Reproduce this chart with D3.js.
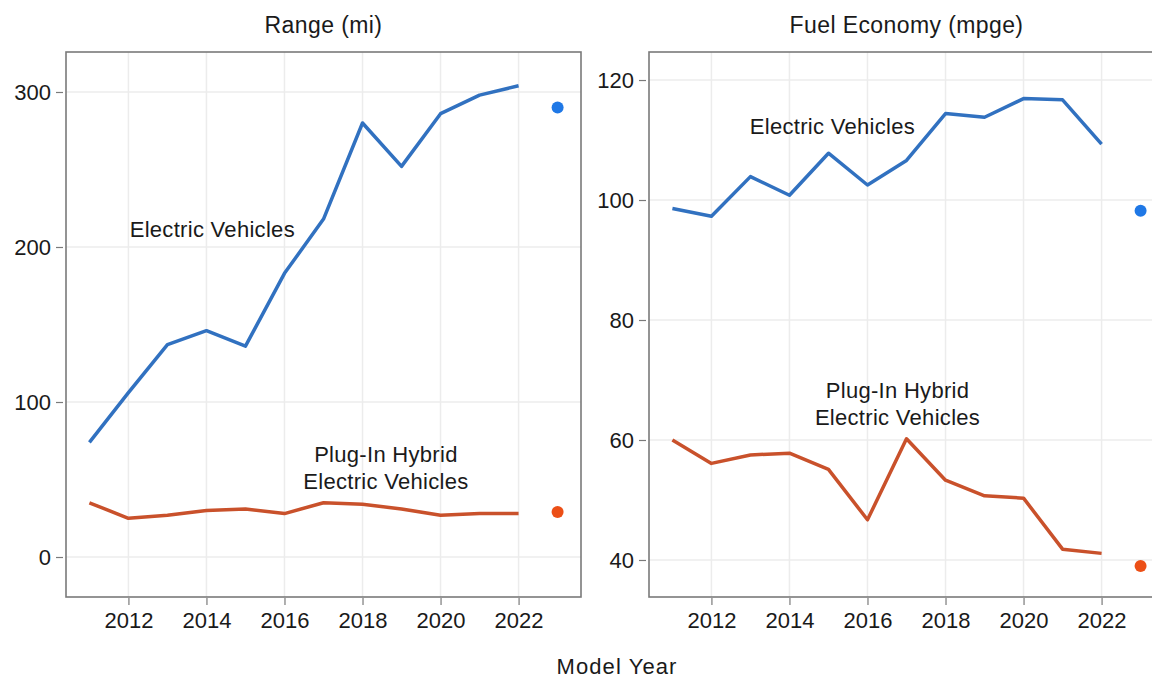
<!DOCTYPE html>
<html>
<head>
<meta charset="utf-8">
<script src="https://cdn.jsdelivr.net/npm/d3@7"></script>
<style>
  html, body { margin: 0; padding: 0; background: #fff; }
  svg { display: block; font-family: "Liberation Sans", Arial, Helvetica, sans-serif; }
</style>
</head>
<body>
<svg id="chart" width="1152" height="679"></svg>
<script>
// Model years plotted as lines; the latest year is shown as a separate dot
const years = [2011, 2012, 2013, 2014, 2015, 2016, 2017, 2018, 2019, 2020, 2021, 2022];
const latestYear = 2023;
const yearTicks = [2012, 2014, 2016, 2018, 2020, 2022];

// Range (mi)
const evRange   = [74, 106, 137, 146, 136, 183, 218, 280, 252, 286, 298, 304];
const phevRange = [35, 25, 27, 30, 31, 28, 35, 34, 31, 27, 28, 28];
const evRangeLatest = 290;
const phevRangeLatest = 29;
const rangeTicks = [0, 100, 200, 300];

// Fuel economy (mpge)
const evMpge   = [98.6, 97.3, 103.9, 100.8, 107.8, 102.5, 106.6, 114.4, 113.8, 116.9, 116.7, 109.3];
const phevMpge = [60.0, 56.1, 57.5, 57.8, 55.1, 46.7, 60.2, 53.3, 50.7, 50.3, 41.8, 41.1];
const evMpgeLatest = 98.2;
const phevMpgeLatest = 39.0;
const mpgeTicks = [40, 60, 80, 100, 120];

const colors = {
  evLine: "#3171c0", evDot: "#1f78e6",
  phevLine: "#c9512b", phevDot: "#ec4f16",
  frame: "#7a7a7a", grid: "#ececec", text: "#1a1a1a"
};

const TOP = 52, BOTTOM = 597;
const svg = d3.select("#chart");

function panel(cfg) {
  const x = d3.scaleLinear().domain([2010.4, 2023.6]).range([cfg.left, cfg.right]);
  const y = d3.scaleLinear().domain(cfg.yDomain).range([BOTTOM, TOP]);
  const g = svg.append("g");

  // clip to the plot area
  const clipId = "clip-" + cfg.id;
  svg.append("clipPath").attr("id", clipId)
    .append("rect").attr("x", cfg.left).attr("y", TOP)
    .attr("width", cfg.right - cfg.left).attr("height", BOTTOM - TOP);

  const plot = g.append("g").attr("clip-path", `url(#${clipId})`);

  // grid lines
  plot.selectAll(".hg").data(cfg.yTicks).join("line")
    .attr("x1", cfg.left).attr("x2", cfg.right)
    .attr("y1", d => y(d)).attr("y2", d => y(d))
    .attr("stroke", colors.grid).attr("stroke-width", 1.5);
  plot.selectAll(".vg").data(yearTicks).join("line")
    .attr("x1", d => x(d)).attr("x2", d => x(d))
    .attr("y1", TOP).attr("y2", BOTTOM)
    .attr("stroke", colors.grid).attr("stroke-width", 1.5);

  // series
  const line = d3.line().x((d, i) => x(years[i])).y(d => y(d));
  cfg.series.forEach(s => {
    plot.append("path").datum(s.values)
      .attr("d", line).attr("fill", "none")
      .attr("stroke", s.line).attr("stroke-width", 3.5)
      .attr("stroke-linejoin", "round");
    plot.append("circle")
      .attr("cx", x(latestYear)).attr("cy", y(s.latest))
      .attr("r", 6).attr("fill", s.dot);
  });

  // frame
  g.append("rect").attr("x", cfg.left).attr("y", TOP)
    .attr("width", cfg.right - cfg.left).attr("height", BOTTOM - TOP)
    .attr("fill", "none").attr("stroke", colors.frame).attr("stroke-width", 1.6);

  // axes
  const yAxis = d3.axisLeft(y).tickValues(cfg.yTicks).tickSize(7).tickPadding(5);
  const ya = g.append("g").attr("transform", `translate(${cfg.left - 3},0)`).call(yAxis);
  const xAxis = d3.axisBottom(x).tickValues(yearTicks).tickFormat(d3.format("d")).tickSize(7).tickPadding(7);
  const xa = g.append("g").attr("transform", `translate(0,${BOTTOM + 1})`).call(xAxis);
  [ya, xa].forEach(a => {
    a.select(".domain").remove();
    a.selectAll(".tick line").attr("stroke", colors.frame).attr("stroke-width", 1.2);
    a.selectAll(".tick text").attr("fill", colors.text).style("font-size", "22px");
  });

  // title
  g.append("text").attr("x", (cfg.left + cfg.right) / 2).attr("y", 33)
    .attr("text-anchor", "middle").attr("fill", colors.text)
    .style("font-size", "23px").style("letter-spacing", "0.4px").text(cfg.title);

  // series labels
  cfg.labels.forEach(l => {
    const t = g.append("text").attr("text-anchor", "middle")
      .attr("fill", colors.text).style("font-size", "22px")
      .style("letter-spacing", "0.3px");
    l.lines.forEach((s, i) => {
      t.append("tspan").attr("x", x(l.year)).attr("y", y(l.value) + i * 27).text(s);
    });
  });
}

panel({
  id: "range", left: 66, right: 581, title: "Range (mi)",
  yDomain: [-25.8, 325.8], yTicks: rangeTicks,
  series: [
    { values: evRange, latest: evRangeLatest, line: colors.evLine, dot: colors.evDot },
    { values: phevRange, latest: phevRangeLatest, line: colors.phevLine, dot: colors.phevDot }
  ],
  labels: [
    { year: 2014.15, value: 206.5, lines: ["Electric Vehicles"] },
    { year: 2018.6, value: 61.5, lines: ["Plug-In Hybrid", "Electric Vehicles"] }
  ]
});

panel({
  id: "mpge", left: 649, right: 1164, title: "Fuel Economy (mpge)",
  yDomain: [33.83, 124.67], yTicks: mpgeTicks,
  series: [
    { values: evMpge, latest: evMpgeLatest, line: colors.evLine, dot: colors.evDot },
    { values: phevMpge, latest: phevMpgeLatest, line: colors.phevLine, dot: colors.phevDot }
  ],
  labels: [
    { year: 2015.1, value: 111, lines: ["Electric Vehicles"] },
    { year: 2016.77, value: 66.95, lines: ["Plug-In Hybrid", "Electric Vehicles"] }
  ]
});

// shared x-axis title
svg.append("text").attr("x", 617).attr("y", 674)
  .attr("text-anchor", "middle").attr("fill", colors.text)
  .style("font-size", "22px").style("letter-spacing", "1.1px").text("Model Year");
</script>
</body>
</html>
